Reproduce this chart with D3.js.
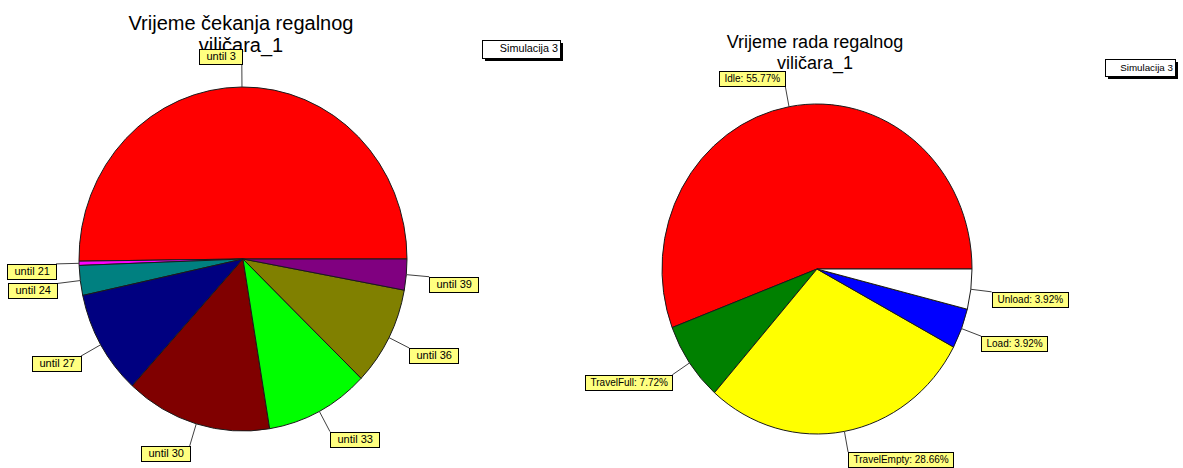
<!DOCTYPE html>
<html>
<head>
<meta charset="utf-8">
<script src="https://cdn.jsdelivr.net/npm/d3@7"></script>
<style>
  html, body { margin: 0; padding: 0; background: #ffffff; }
  svg { display: block; font-family: "Liberation Sans", Arial, sans-serif; }
</style>
</head>
<body>
<svg id="chart" width="1183" height="468"></svg>
<script>
// Waiting time of the rack forklift, by waiting-time class
const waitCategories = ["until 3", "until 21", "until 24", "until 27", "until 30", "until 33", "until 36", "until 39"];
const waitValues = [50.2, 0.4, 2.8, 9.8, 14.4, 10.2, 9.3, 2.9];
const waitColors = ["#ff0000", "#ff00ff", "#008080", "#000080", "#800000", "#00ff00", "#808000", "#800080"];
const waitTitle = ["Vrijeme čekanja regalnog", "viličara_1"];

// Operating time of the rack forklift, by state (percent)
const workCategories = ["Idle", "TravelFull", "TravelEmpty", "Load", "Unload"];
const workValues = [55.77, 7.72, 28.66, 3.92, 3.92];
const workColors = ["#ff0000", "#008000", "#ffff00", "#0000ff", "#ffffff"];
const workTitle = ["Vrijeme rada regalnog", "viličara_1"];

const legendLabel = "Simulacija 3";

const svg = d3.select("#chart");

function drawTitle(lines, cx, baselines, size) {
  const t = svg.append("text")
    .attr("text-anchor", "middle")
    .attr("font-size", size)
    .attr("fill", "#000");
  lines.forEach((line, i) => {
    t.append("tspan").attr("x", cx).attr("y", baselines[i]).text(line);
  });
}

function drawLegend(x, y, w, h, size) {
  const g = svg.append("g");
  g.append("rect").attr("x", x + 3).attr("y", y + 3).attr("width", w).attr("height", h).attr("fill", "#000");
  g.append("rect").attr("x", x + 0.5).attr("y", y + 0.5).attr("width", w).attr("height", h)
    .attr("fill", "#fff").attr("stroke", "#000").attr("stroke-width", 1);
  g.append("text").attr("x", x + w - 2).attr("y", y + h / 2 + 0.5)
    .attr("text-anchor", "end").attr("dominant-baseline", "middle")
    .attr("font-size", size).text(legendLabel);
}

function drawPie(cfg) {
  const g = svg.append("g");
  // slices run counter-clockwise starting at three o'clock
  const pie = d3.pie().sort(null)
    .startAngle(Math.PI / 2)
    .endAngle(Math.PI / 2 - 2 * Math.PI);
  const arcs = pie(cfg.values);
  const arc = d3.arc().innerRadius(0).outerRadius(cfg.rx);

  const wedges = g.append("g")
    .attr("transform", `translate(${cfg.cx},${cfg.cy}) scale(1,${cfg.ry / cfg.rx})`);
  wedges.selectAll("path").data(arcs).join("path")
    .attr("d", arc)
    .attr("fill", (d, i) => cfg.colors[i])
    .attr("stroke", "#1a1a1a")
    .attr("stroke-width", 1)
    .attr("stroke-linejoin", "round")
    .attr("vector-effect", "non-scaling-stroke");

  const labels = g.append("g");
  arcs.forEach((d, i) => {
    const a = (d.startAngle + d.endAngle) / 2;
    const ux = Math.sin(a), uy = -Math.cos(a);
    const x0 = cfg.cx + cfg.rx * ux, y0 = cfg.cy + cfg.ry * uy;
    const x1 = x0 + cfg.leader * ux, y1 = y0 + cfg.leader * uy;

    labels.append("line")
      .attr("x1", x0).attr("y1", y0).attr("x2", x1).attr("y2", y1)
      .attr("stroke", "#404040").attr("stroke-width", 1);

    const box = labels.append("rect");
    const txt = labels.append("text")
      .attr("font-size", cfg.fontSize)
      .attr("dominant-baseline", "middle")
      .text(cfg.label(d, i));
    const w = Math.round(txt.node().getComputedTextLength() + 2 * cfg.pad);
    const h = cfg.boxH;
    const bx = Math.round(ux > 0.05 ? x1 : x1 - w);
    const by = Math.round(uy < 0 ? y1 - h : y1);
    box.attr("x", bx + 0.5).attr("y", by + 0.5).attr("width", w).attr("height", h)
      .attr("fill", "#ffff80").attr("stroke", "#000").attr("stroke-width", 1);
    txt.attr("x", bx + cfg.pad + 0.5).attr("y", by + h / 2 + 1);
  });
}

drawTitle(waitTitle, 241, [30, 52], 20);
drawTitle(workTitle, 815, [48, 69], 18);

drawLegend(482, 40, 78, 18, 10.8);
drawLegend(1105, 59, 70, 17, 9.8);

drawPie({
  cx: 243, cy: 259, rx: 164, ry: 172,
  values: waitValues, colors: waitColors,
  label: (d, i) => waitCategories[i],
  fontSize: 11, pad: 7, boxH: 15, leader: 23
});

drawPie({
  cx: 817, cy: 269, rx: 155, ry: 165,
  values: workValues, colors: workColors,
  label: (d, i) => `${workCategories[i]}: ${workValues[i].toFixed(2)}%`,
  fontSize: 10, pad: 5, boxH: 15, leader: 21
});
</script>
</body>
</html>
